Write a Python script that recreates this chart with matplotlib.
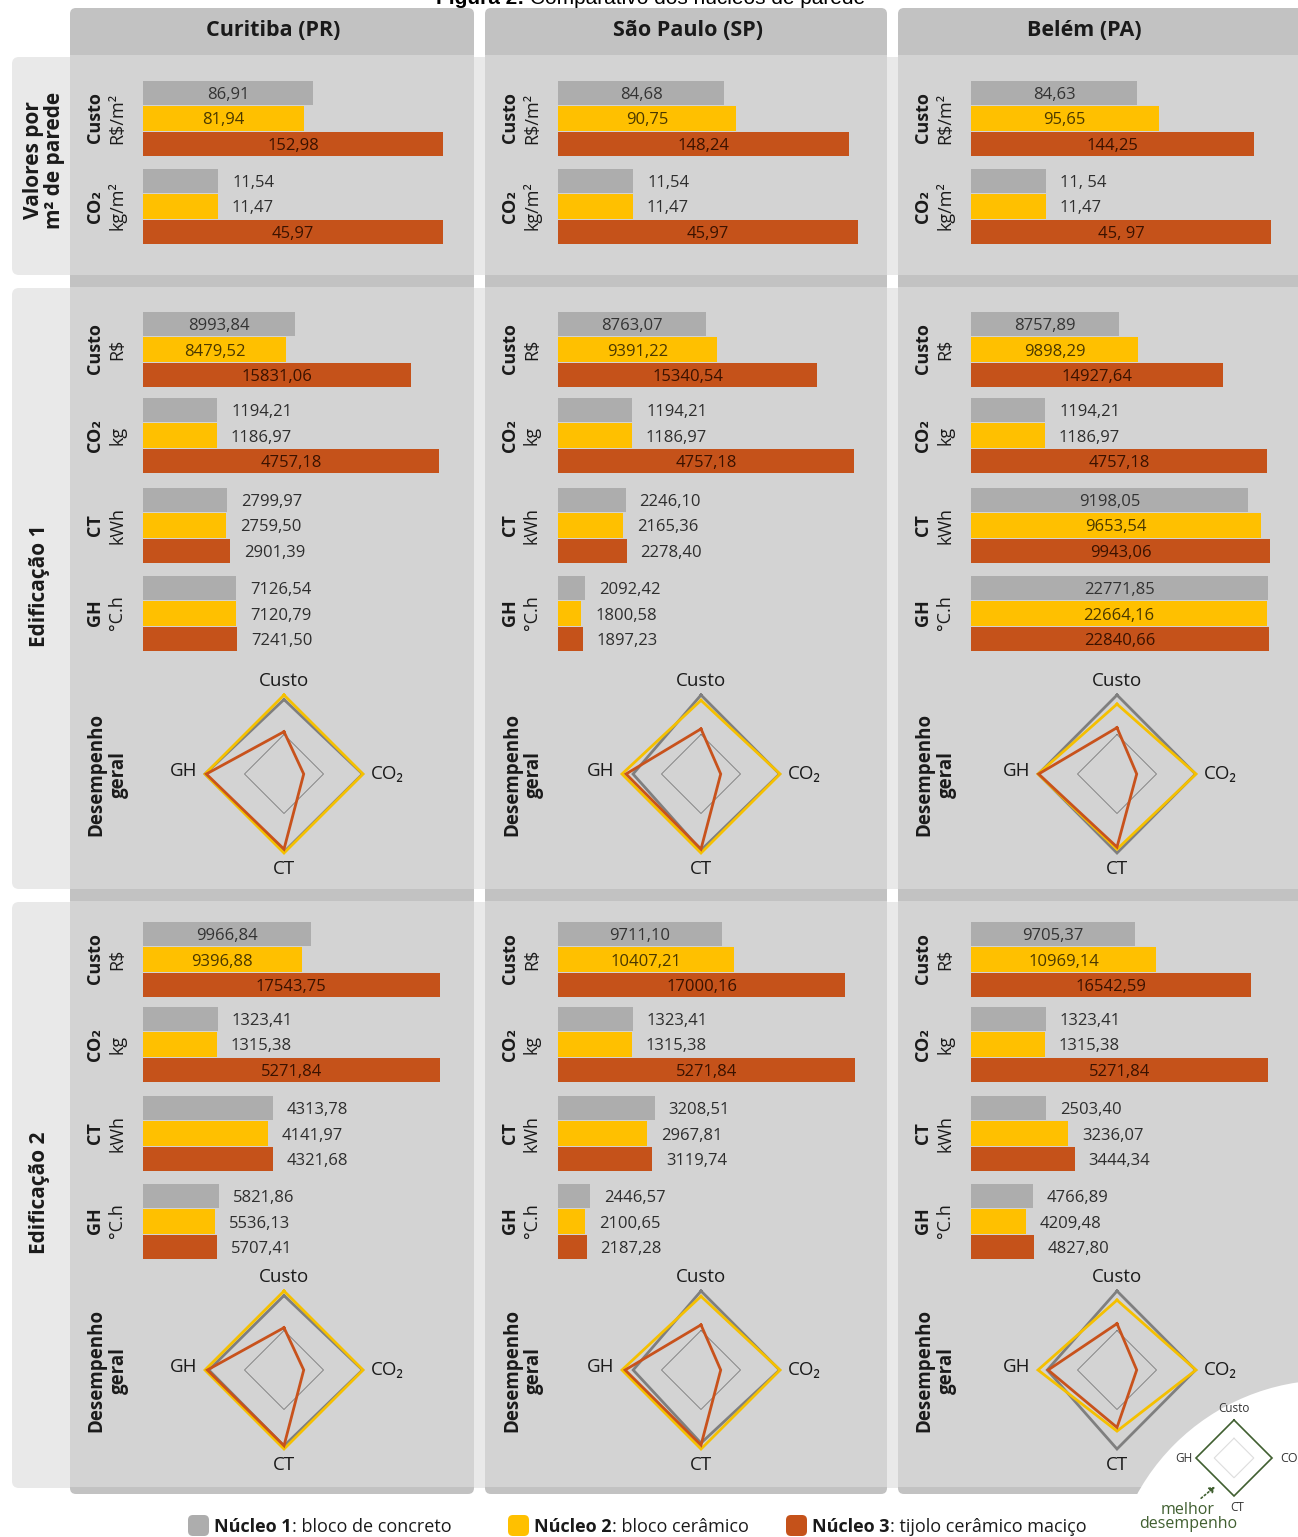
import matplotlib
matplotlib.use('Agg')
import matplotlib.pyplot as plt
from matplotlib.patches import FancyBboxPatch, Rectangle, Circle, FancyArrowPatch
import numpy as np

plt.rcParams['font.family'] = ['Open Sans', 'DejaVu Sans']

# ---------------- data ----------------
cities = ['Curitiba (PR)', 'São Paulo (SP)', 'Belém (PA)']
nucleos = ['Núcleo 1', 'Núcleo 2', 'Núcleo 3']
nucleo_desc = ['bloco de concreto', 'bloco cerâmico', 'tijolo cerâmico maciço']
row_labels = ['Valores por\nm² de parede', 'Edificação 1', 'Edificação 2']
m2_metrics = [('Custo', 'R$/m²'), ('CO₂', 'kg/m²')]
ed_metrics = [('Custo', 'R$'), ('CO₂', 'kg'), ('CT', 'kWh'), ('GH', '°C.h')]
radar_axes_labels = ['Custo', 'CO₂', 'CT', 'GH']

m2_custo = [[86.91, 81.94, 152.98], [84.68, 90.75, 148.24], [84.63, 95.65, 144.25]]
m2_co2 = [[11.54, 11.47, 45.97], [11.54, 11.47, 45.97], [11.54, 11.47, 45.97]]
m2_co2_text = [None, None, ['11, 54', '11,47', '45, 97']]

ed1_custo = [[8993.84, 8479.52, 15831.06], [8763.07, 9391.22, 15340.54], [8757.89, 9898.29, 14927.64]]
ed1_co2 = [[1194.21, 1186.97, 4757.18], [1194.21, 1186.97, 4757.18], [1194.21, 1186.97, 4757.18]]
ed1_ct = [[2799.97, 2759.50, 2901.39], [2246.10, 2165.36, 2278.40], [9198.05, 9653.54, 9943.06]]
ed1_gh = [[7126.54, 7120.79, 7241.50], [2092.42, 1800.58, 1897.23], [22771.85, 22664.16, 22840.66]]

ed2_custo = [[9966.84, 9396.88, 17543.75], [9711.10, 10407.21, 17000.16], [9705.37, 10969.14, 16542.59]]
ed2_co2 = [[1323.41, 1315.38, 5271.84], [1323.41, 1315.38, 5271.84], [1323.41, 1315.38, 5271.84]]
ed2_ct = [[4313.78, 4141.97, 4321.68], [3208.51, 2967.81, 3119.74], [2503.40, 3236.07, 3444.34]]
ed2_gh = [[5821.86, 5536.13, 5707.41], [2446.57, 2100.65, 2187.28], [4766.89, 4209.48, 4827.80]]

# scale maxima of the bar axes (per row group / metric)
m2_xmax = [153, 46]
ed1_xmax = [17750, 4820, 9970, 22990]
ed2_xmax = [17750, 5325, 9970, 22990]

key_values = [1, 1, 1, 1]

# ---------------- style ----------------
bar_colors = ['#adadad', '#ffc000', '#c5521a']
inside_text = ['#333333', '#4a3800', '#3a1200']
radar_colors = ['#7f7f7f', '#f5c000', '#c8521c']
panel_c = '#d3d3d3'
header_c = '#c2c2c2'
rowbg_c = '#e9e9e9'
green = '#405f30'

W, H = 1298, 1537
fig = plt.figure(figsize=(W / 100, H / 100), dpi=100)
fig.patch.set_facecolor('white')


def px_axes(x, y, w, h):
    return fig.add_axes([x / W, 1 - (y + h) / H, w / W, h / H])


bg = px_axes(0, 0, W, H)
bg.set_xlim(0, W)
bg.set_ylim(H, 0)
bg.axis('off')

col_left = [70, 485, 898]
col_right = [474, 887, 1320]
header_x = [273, 688, 1084]
rows = [(57, 275), (288, 889), (902, 1488)]
bodies = [(55, 275), (287, 889), (901, 1487)]
row_label_xy = [(44, 160), (40, 586), (40, 1193)]

# row backgrounds
for (y0, y1) in rows:
    bg.add_patch(FancyBboxPatch((12, y0), 1330, y1 - y0,
                                boxstyle='round,pad=0,rounding_size=7',
                                fc=rowbg_c, ec='none', zorder=0))
# column panels
for cl, cr in zip(col_left, col_right):
    bg.add_patch(FancyBboxPatch((cl, 8), cr - cl, 1486,
                                boxstyle='round,pad=0,rounding_size=6',
                                fc=header_c, ec='none', zorder=1))
    for (y0, y1) in bodies:
        bg.add_patch(Rectangle((cl, y0), cr - cl, y1 - y0, fc=panel_c, ec='none', zorder=2))

for i, c in enumerate(cities):
    bg.text(header_x[i], 31, c, ha='center', va='center', fontsize=15.5,
            fontweight='bold', color='#1a1a1a', zorder=5)

for (x, y), lab in zip(row_label_xy, row_labels):
    bg.text(x, y, lab, rotation=90, ha='center', va='center', fontsize=15,
            fontweight='bold', color='#1a1a1a', linespacing=1.05,
            multialignment='center', zorder=5)

# title (cut at top edge, as in the reference)
t1 = bg.text(436, 4, 'Figura 2: ', fontsize=15, fontweight='bold',
             family=['Liberation Sans', 'DejaVu Sans'], va='baseline', ha='left', zorder=5)
fig.canvas.draw()
r = fig.canvas.get_renderer()
bb = t1.get_window_extent(r)
bg.text(bb.x1, 4, 'Comparativo dos núcleos de parede', fontsize=15,
        family=['Liberation Sans', 'DejaVu Sans'], va='baseline', ha='left', zorder=5)


def fmt(v):
    return f'{v:.2f}'.replace('.', ',')


def bar_group(x0, y0, vals, xmax, texts=None):
    ax = px_axes(x0, y0, 300, 77)
    ax.set_xlim(0, xmax)
    ax.set_ylim(2.5, -0.5)
    ax.axis('off')
    ax.barh(range(3), vals, height=0.96, color=bar_colors)
    for i, v in enumerate(vals):
        s = texts[i] if texts else fmt(v)
        if v / xmax > 0.45:
            ax.text(v / 2, i, s, ha='center', va='center_baseline',
                    color=inside_text[i], fontsize=12)
        else:
            ax.annotate(s, (v, i), xytext=(10, 0), textcoords='offset points',
                        ha='left', va='center_baseline', color='#2e2e2e', fontsize=12)


def ylabel(cl, yc, name, unit):
    bg.text(cl + 25, yc, name, rotation=90, ha='center', va='center', fontsize=13,
            fontweight='bold', color='#1a1a1a', zorder=5)
    bg.text(cl + 47, yc, unit, rotation=90, ha='center', va='center', fontsize=13,
            color='#1a1a1a', zorder=5)


def radar(cx, cy, metric_lists):
    R = 79
    ax = px_axes(cx - 1.6 * R, cy - 1.6 * R, 3.2 * R, 3.2 * R)
    ax.set_xlim(-1.6, 1.6)
    ax.set_ylim(-1.6, 1.6)
    ax.axis('off')
    ang = np.deg2rad([90, 0, 270, 180, 90])
    ref = np.full(5, 0.5)
    ax.plot(ref * np.cos(ang), ref * np.sin(ang), color='#7a7a7a', lw=0.6)
    norm = []
    for m in metric_lists:
        best = min(m)
        norm.append([best / v for v in m])
    norm = np.array(norm).T  # nucleo x metric
    for k in range(3):
        rr = np.append(norm[k], norm[k][0])
        ax.plot(rr * np.cos(ang), rr * np.sin(ang), color=radar_colors[k], lw=2.0,
                solid_joinstyle='miter')
    ax.text(0, 1.18, 'Custo', ha='center', va='center', fontsize=13.5, color='#1a1a1a')
    ax.text(0, -1.2, 'CT', ha='center', va='center', fontsize=13.5, color='#1a1a1a')
    ax.text(-1.1, 0.04, 'GH', ha='right', va='center', fontsize=13.5, color='#1a1a1a')
    ax.text(1.1, 0.0, 'CO₂', ha='left', va='center', fontsize=13.5, color='#1a1a1a')


m2_tops = [80, 168]
ed1_tops = [311, 397, 487, 575]
ed2_tops = [921, 1006, 1095, 1183]
radar_cx = [284, 701, 1117]
radar_cy = [774, 1370]

for c in range(3):
    cl = col_left[c]
    x0 = cl + 73
    # m2 values
    for j, (vals, xmax) in enumerate(zip([m2_custo[c], m2_co2[c]], m2_xmax)):
        bar_group(x0, m2_tops[j], vals, xmax, m2_co2_text[c] if j == 1 else None)
        ylabel(cl, m2_tops[j] + 38, *m2_metrics[j])
    # edifications
    for tops, data, xmaxs, cy in [
        (ed1_tops, [ed1_custo[c], ed1_co2[c], ed1_ct[c], ed1_gh[c]], ed1_xmax, radar_cy[0]),
        (ed2_tops, [ed2_custo[c], ed2_co2[c], ed2_ct[c], ed2_gh[c]], ed2_xmax, radar_cy[1])]:
        for j in range(4):
            bar_group(x0, tops[j], data[j], xmaxs[j])
            ylabel(cl, tops[j] + 38, *ed_metrics[j])
        bg.text(cl + 38, cy, 'Desempenho\ngeral', rotation=90, ha='center', va='center',
                fontsize=13.5, fontweight='bold', color='#1a1a1a', linespacing=1.15,
                multialignment='center', zorder=5)
        radar(radar_cx[c], cy, data)

# legend
leg_x = [188, 508, 786]
for i in range(3):
    bg.add_patch(FancyBboxPatch((leg_x[i], 1515), 21, 21,
                                boxstyle='round,pad=0,rounding_size=5',
                                fc=bar_colors[i], ec='none', zorder=5))
    tb = bg.text(leg_x[i] + 26, 1532, nucleos[i], fontsize=13, fontweight='bold',
                 ha='left', va='baseline', color='#1a1a1a', zorder=5)
    fig.canvas.draw()
    bbx = tb.get_window_extent(fig.canvas.get_renderer())
    bg.text(bbx.x1, 1532, ': ' + nucleo_desc[i], fontsize=13, ha='left',
            va='baseline', color='#1a1a1a', zorder=5)

# key inset (bottom right)
bg.add_patch(Circle((1330, 1600), 220, fc='white', ec='none', zorder=6))
kx, ky, kr = 1234, 1458, 38
kax = px_axes(kx - 1.6 * kr, ky - 1.6 * kr, 3.2 * kr, 3.2 * kr)
kax.set_xlim(-1.6, 1.6)
kax.set_ylim(-1.6, 1.6)
kax.axis('off')
ka = np.deg2rad([90, 0, 270, 180, 90])
kv = np.append(key_values, key_values[0])
kax.plot(0.52 * np.cos(ka), 0.52 * np.sin(ka), color='#dddddd', lw=0.8)
kax.plot(kv * np.cos(ka), kv * np.sin(ka), color=green, lw=1.2, solid_joinstyle='miter')
kax.text(0, 1.3, 'Custo', ha='center', va='center', fontsize=8.5, color='#333333')
kax.text(-1.08, 0, 'GH', ha='right', va='center', fontsize=8.5, color='#333333')
kax.text(1.22, 0, 'CO₂', ha='left', va='center', fontsize=9, color='#333333', clip_on=False)
kax.text(0.08, -1.3, 'CT', ha='center', va='center', fontsize=8.5, color='#333333')
bg.add_patch(FancyArrowPatch((1199, 1500), (1217, 1485), arrowstyle='-|>,head_length=3,head_width=2',
                             linestyle=(0, (1, 1.5)), color=green, lw=1.2, zorder=7))
bg.text(1188, 1510, 'melhor', ha='center', va='center', fontsize=11.5, color=green, zorder=7)
bg.text(1188, 1524, 'desempenho', ha='center', va='center', fontsize=11.5, color=green, zorder=7)

fig.savefig('out.png', dpi=100, facecolor='white')
